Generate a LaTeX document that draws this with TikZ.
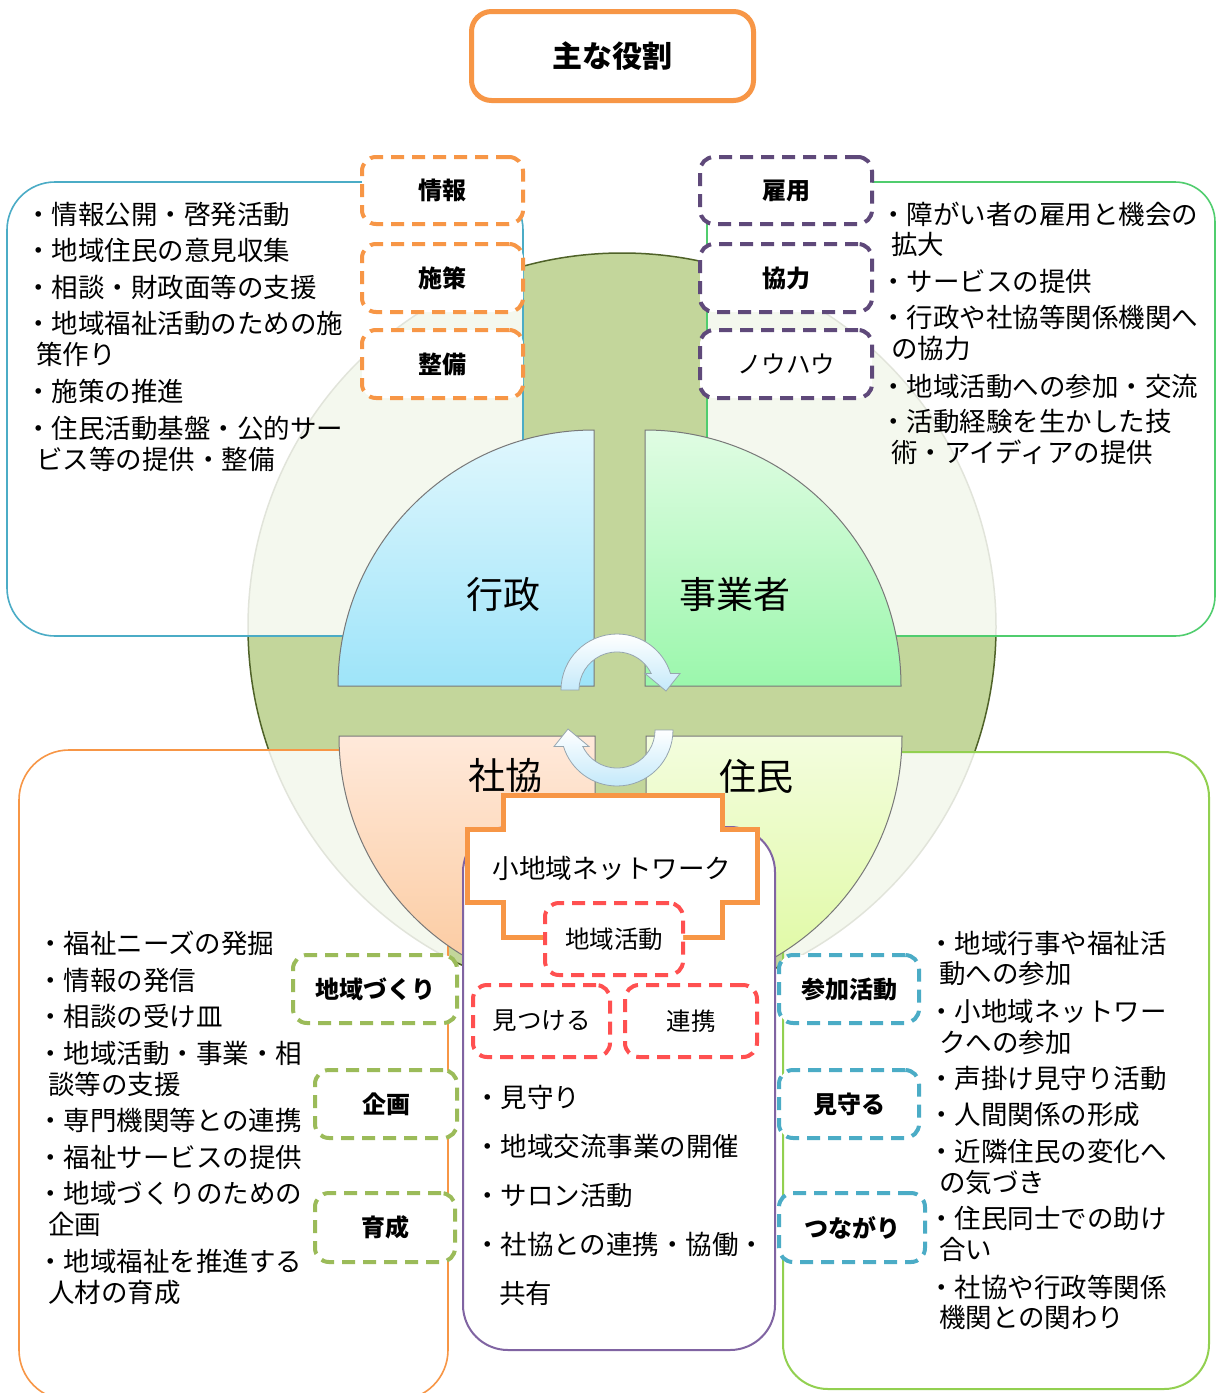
\documentclass[tikz,border=0pt]{standalone}
\usepackage{fontspec}
\newfontfamily\jp{Noto Sans CJK JP}
\newfontfamily\jpheavy{Noto Sans CJK JP Black}
\usetikzlibrary{calc}
\definecolor{cOrange}{RGB}{247,150,70}
\definecolor{cPurpleD}{RGB}{95,73,122}
\definecolor{cPurple}{RGB}{128,100,162}
\definecolor{cGreenD}{RGB}{155,187,89}
\definecolor{cBlue}{RGB}{75,172,198}
\definecolor{cRed}{RGB}{255,80,80}
\definecolor{cGreenBox}{RGB}{80,205,110}
\definecolor{cLime}{RGB}{146,208,80}
\definecolor{cCircle}{RGB}{195,214,155}
\definecolor{cCircleEdge}{RGB}{79,98,40}
\definecolor{qGray}{RGB}{120,120,120}
\definecolor{aTop}{RGB}{224,247,253}
\definecolor{aBot}{RGB}{158,228,249}
\definecolor{bTop}{RGB}{224,252,227}
\definecolor{bBot}{RGB}{155,247,172}
\definecolor{cTop}{RGB}{255,233,218}
\definecolor{cBot}{RGB}{251,200,155}
\definecolor{dTop}{RGB}{243,253,222}
\definecolor{dBot}{RGB}{222,249,158}
\definecolor{arrBlue}{RGB}{196,233,250}
\tikzset{
  infobox/.style={line width=1.6pt, fill=white, fill opacity=0.83},
  quarter/.style={draw=qGray, line width=1pt},
  arr/.style={draw={rgb,255:red,150;green,165;blue,175}, line width=0.8pt, top color=white, bottom color=arrBlue},
  dbox/.style={draw=#1, line width=4pt, dash pattern=on 13pt off 8pt, rounded corners=14pt, fill=white, inner sep=0pt, font=\jpheavy\fontsize{24}{24}\selectfont},
  dboxr/.style={dbox=#1, font=\jp\fontsize{24.5}{24.5}\selectfont},
  tx/.style={anchor=west, inner sep=0pt, font=\jp\fontsize{26.5}{26.5}\selectfont, text height=23.3pt, text depth=3.2pt},
  qlabel/.style={inner sep=0pt, font=\jp\fontsize{37}{37}\selectfont}
}
\begin{document}
\begin{tikzpicture}[x=1pt,y=1pt]
\useasboundingbox (0,0) rectangle (1217,-1393);
\fill[white] (0,0) rectangle (1217,-1393);

% big circle
\filldraw[fill=cCircle, draw=cCircleEdge, line width=1.5pt] (622,-627) circle[radius=374];

% info boxes (semi-transparent)
\draw[infobox, draw=cBlue, rounded corners=48pt] (7,-182) rectangle (523,-636);
\draw[infobox, draw=cGreenBox, rounded corners=40pt] (707,-182) rectangle (1215,-636);
\draw[infobox, draw=cOrange, rounded corners=50pt] (19,-750) rectangle (448,-1400);
\draw[infobox, draw=cLime, line width=2pt, rounded corners=45pt] (783,-752) rectangle (1209,-1389);

% quarter circles
\path[quarter, top color=aTop, bottom color=aBot] (594,-686) -- (338,-686) arc[start angle=180, end angle=90, radius=256] -- cycle;
\path[quarter, top color=bTop, bottom color=bBot] (645,-686) -- (901,-686) arc[start angle=0, end angle=90, radius=256] -- cycle;
\path[quarter, top color=cTop, bottom color=cBot] (595,-736) -- (339,-736) arc[start angle=180, end angle=270, radius=256] -- cycle;
\path[quarter, top color=dTop, bottom color=dBot] (646,-736) -- (902,-736) arc[start angle=0, end angle=-90, radius=256] -- cycle;

\node[qlabel] (gyousei) at (503,-594) {行政};
\node[qlabel] (jigyousha) at (735,-594) {事業者};
\node[qlabel] (shakyou) at (505,-775) {社協};
\node[qlabel] (juumin) at (756,-776) {住民};

% circular arrows
\begin{scope}[shift={(617,-690)}]
\path[arr] (-56,0) arc[start angle=180, end angle=17.1, radius=56] -- (63,16.5) -- (49,-1) -- (28,16.5) -- (34.2,16.5) arc[start angle=25.7, end angle=180, radius=38] -- cycle;
\end{scope}
\begin{scope}[shift={(617,-730)}]
\path[arr] (56,0) arc[start angle=0, end angle=-162.9, radius=56] -- (-63,-16.5) -- (-49,1) -- (-28,-16.5) -- (-34.2,-16.5) arc[start angle=-154.3, end angle=0, radius=38] -- cycle;
\end{scope}

% middle purple box
\draw[draw=cPurple, line width=2pt, fill=white, rounded corners=45pt] (463,-827) rectangle (775,-1350);

% orange cross
\draw[draw=cOrange, line width=5pt, fill=white, line join=miter]
  (503,-795) -- (722,-795) -- (722,-829) -- (757,-829) -- (757,-902) -- (722,-902) -- (722,-937)
  -- (503,-937) -- (503,-902) -- (467,-902) -- (467,-829) -- (503,-829) -- cycle;
\node[inner sep=0pt, font=\jp\fontsize{26.5}{26.5}\selectfont] (network) at (612,-868) {小地域ネットワーク};

% title
\node[draw=cOrange, line width=5pt, rounded corners=20pt, minimum width=282pt, minimum height=89pt, fill=white, font=\jpheavy\fontsize{30}{30}\selectfont] (title) at (612.5,-56) {主な役割};

% dashed label boxes
\node[dbox=cOrange, minimum width=161pt, minimum height=67pt] (jouhou) at (442.5,-190.5) {情報};
\node[dbox=cOrange, minimum width=161pt, minimum height=68pt] (shisaku) at (442.5,-278) {施策};
\node[dbox=cOrange, minimum width=161pt, minimum height=68pt] (seibi) at (442.5,-364) {整備};
\node[dbox=cPurpleD, minimum width=172pt, minimum height=67pt] (koyou) at (786,-190.5) {雇用};
\node[dbox=cPurpleD, minimum width=172pt, minimum height=68pt] (kyouryoku) at (786,-278) {協力};
\node[dboxr=cPurpleD, minimum width=172pt, minimum height=68pt] (knowhow) at (786,-364) {ノウハウ};

\node[dbox=cGreenD, minimum width=164pt, minimum height=68pt] (chiikizukuri) at (375,-989) {地域づくり};
\node[dbox=cGreenD, minimum width=142pt, minimum height=68pt] (kikaku) at (386,-1104) {企画};
\node[dbox=cGreenD, minimum width=140pt, minimum height=69pt] (ikusei) at (385,-1227.5) {育成};

\node[dbox=cBlue, minimum width=140pt, minimum height=68pt] (sanka) at (849,-989) {参加活動};
\node[dbox=cBlue, minimum width=140pt, minimum height=68pt] (mimamoru) at (849,-1104) {見守る};
\node[dbox=cBlue, minimum width=146pt, minimum height=69pt] (tsunagari) at (852,-1227.5) {つながり};

\node[dboxr=cRed, minimum width=138pt, minimum height=72pt] (chiikikatsudou) at (614,-939) {地域活動};
\node[dboxr=cRed, minimum width=137pt, minimum height=72pt] (mitsukeru) at (541.5,-1021) {見つける};
\node[dboxr=cRed, minimum width=132pt, minimum height=72pt] (renkei) at (691,-1021) {連携};

% text top-left
\node[tx] (tl1) at (25,-214) {・情報公開・啓発活動};
\node[tx] (tl2) at (25,-250) {・地域住民の意見収集};
\node[tx] (tl3) at (25,-287) {・相談・財政面等の支援};
\node[tx] (tl4) at (25,-323) {・地域福祉活動のための施};
\node[tx] (tl4b) at (36,-354) {策作り};
\node[tx] (tl5) at (25,-391) {・施策の推進};
\node[tx] (tl6) at (25,-428) {・住民活動基盤・公的サー};
\node[tx] (tl6b) at (36,-459) {ビス等の提供・整備};

% text top-right
\node[tx] (tr1) at (880,-214) {・障がい者の雇用と機会の};
\node[tx] (tr1b) at (891,-244) {拡大};
\node[tx] (tr2) at (880,-281) {・サービスの提供};
\node[tx] (tr3) at (880,-317) {・行政や社協等関係機関へ};
\node[tx] (tr3b) at (891,-348) {の協力};
\node[tx] (tr4) at (880,-386) {・地域活動への参加・交流};
\node[tx] (tr5) at (880,-421) {・活動経験を生かした技};
\node[tx] (tr5b) at (891,-452) {術・アイディアの提供};

% text bottom-left
\node[tx] (bl1) at (37,-943) {・福祉ニーズの発掘};
\node[tx] (bl2) at (37,-980) {・情報の発信};
\node[tx] (bl3) at (37,-1016) {・相談の受け皿};
\node[tx] (bl4) at (37,-1053) {・地域活動・事業・相};
\node[tx] (bl4b) at (48,-1084) {談等の支援};
\node[tx] (bl5) at (37,-1120) {・専門機関等との連携};
\node[tx] (bl6) at (37,-1157) {・福祉サービスの提供};
\node[tx] (bl7) at (37,-1193) {・地域づくりのための};
\node[tx] (bl7b) at (48,-1224) {企画};
\node[tx] (bl8) at (37,-1261) {・地域福祉を推進する};
\node[tx] (bl8b) at (48,-1292) {人材の育成};

% text bottom-right
\node[tx] (br1) at (928,-943) {・地域行事や福祉活};
\node[tx] (br1b) at (939,-973) {動への参加};
\node[tx] (br2) at (928,-1011) {・小地域ネットワー};
\node[tx] (br2b) at (939,-1042) {クへの参加};
\node[tx] (br3) at (928,-1078) {・声掛け見守り活動};
\node[tx] (br4) at (928,-1114) {・人間関係の形成};
\node[tx] (br5) at (928,-1151) {・近隣住民の変化へ};
\node[tx] (br5b) at (939,-1182) {の気づき};
\node[tx] (br6) at (928,-1218) {・住民同士での助け};
\node[tx] (br6b) at (939,-1249) {合い};
\node[tx] (br7) at (928,-1287) {・社協や行政等関係};
\node[tx] (br7b) at (939,-1317) {機関との関わり};

% text middle
\node[tx] (m1) at (474,-1097) {・見守り};
\node[tx] (m2) at (474,-1146) {・地域交流事業の開催};
\node[tx] (m3) at (474,-1195) {・サロン活動};
\node[tx] (m4) at (474,-1244) {・社協との連携・協働・};
\node[tx] (m4b) at (499,-1293) {共有};
\end{tikzpicture}
\end{document}
